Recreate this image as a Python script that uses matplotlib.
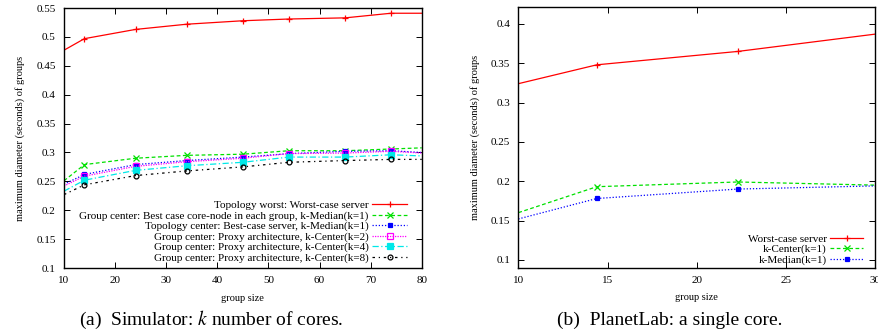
import matplotlib
matplotlib.use("Agg")
import matplotlib.pyplot as plt
from matplotlib.ticker import FormatStrFormatter

plt.rcParams['font.family'] = ['Liberation Serif', 'DejaVu Serif']
plt.rcParams['mathtext.fontset'] = 'stix'

# (a) simulator data
sim_x = [10, 14, 24, 34, 45, 54, 65, 74, 80]
sim_worst = [0.477, 0.497, 0.513, 0.522, 0.528, 0.531, 0.533, 0.541, 0.541]
sim_gc_median = [0.251, 0.279, 0.290, 0.295, 0.297, 0.303, 0.303, 0.306, 0.308]
sim_tc_median = [0.245, 0.262, 0.279, 0.286, 0.292, 0.298, 0.302, 0.303, 0.300]
sim_k2 = [0.242, 0.259, 0.276, 0.284, 0.290, 0.298, 0.299, 0.302, 0.299]
sim_k4 = [0.233, 0.252, 0.269, 0.277, 0.283, 0.292, 0.292, 0.296, 0.294]
sim_k8 = [0.227, 0.244, 0.260, 0.268, 0.275, 0.283, 0.286, 0.288, 0.288]
sim_labels = [
    "Topology worst: Worst-case server",
    "Group center: Best case core-node in each group, k-Median(k=1)",
    "Topology center: Best-case server, k-Median(k=1)",
    "Group center: Proxy architecture, k-Center(k=2)",
    "Group center: Proxy architecture, k-Center(k=4)",
    "Group center: Proxy architecture, k-Center(k=8)",
]

# (b) PlanetLab data
pl_x = [10, 14.4, 22.3, 30]
pl_worst = [0.324, 0.348, 0.365, 0.387]
pl_center = [0.160, 0.193, 0.199, 0.195]
pl_median = [0.152, 0.178, 0.190, 0.194]
pl_labels = ["Worst-case server", "k-Center(k=1)", "k-Median(k=1)"]

fig = plt.figure(figsize=(8.79, 3.35), dpi=100)
ax1 = fig.add_axes([0.0728, 0.2, 0.407, 0.776])
ax2 = fig.add_axes([0.5897, 0.2009, 0.4058, 0.777])

styles = [
    dict(color="#ff0000", ls="-", marker="+", mfc="none"),
    dict(color="#00e000", ls=(0, (3, 2)), marker="x", mfc="none"),
    dict(color="#0000ff", ls=(0, (1, 1.5)), marker="s", mfc="#0000ff", ms=3),
    dict(color="#ff00ff", ls=(0, (1, 1)), marker="s", mfc="none", ms=4),
    dict(color="#00e8e8", ls=(0, (5, 2, 1, 2)), marker="s", mfc="#00e8e8", ms=4),
    dict(color="#000000", ls=(0, (2, 3, 1, 3)), marker="o", mfc="none", ms=3.5),
]

sim_series = [sim_worst, sim_gc_median, sim_tc_median, sim_k2, sim_k4, sim_k8]
for ys, lab, st in zip(sim_series, sim_labels, styles):
    st = dict(st)
    st.setdefault("ms", 5)
    ax1.plot(sim_x, ys, label=lab, lw=0.9, mew=0.9, markevery=slice(1, -1), **st)

pl_series = [pl_worst, pl_center, pl_median]
for ys, lab, st in zip(pl_series, pl_labels, styles[:3]):
    st = dict(st)
    st.setdefault("ms", 5)
    ax2.plot(pl_x, ys, label=lab, lw=0.9, mew=0.9, markevery=slice(1, -1), **st)

ax1.set_xlim(10, 80)
ax1.set_ylim(0.1, 0.55)
ax1.set_xticks(range(10, 81, 10))
ax1.set_yticks([0.1 + 0.05 * i for i in range(10)])

ax2.set_xlim(10, 30)
ax2.set_ylim(0.09, 0.421)
ax2.set_xticks([10, 15, 20, 25, 30])
ax2.set_yticks([0.1, 0.15, 0.2, 0.25, 0.3, 0.35, 0.4])

for ax in (ax1, ax2):
    ax.yaxis.set_major_formatter(FormatStrFormatter('%g'))
    ax.tick_params(direction="in", top=True, right=True, labelsize=8, length=4, width=0.7, pad=6)
    for sp in ax.spines.values():
        sp.set_linewidth(1.0)
    ax.set_xlabel("group size", fontsize=7.5, labelpad=6)
    ax.set_ylabel("maximum diameter (seconds) of groups", fontsize=7.5, labelpad=8)

ax1.legend(loc="lower right", markerfirst=False, frameon=False, fontsize=8,
           handlelength=3.2, labelspacing=0.05, borderaxespad=0.4, handletextpad=0.3,
           bbox_to_anchor=(0.985, -0.015))
ax2.legend(loc="lower right", markerfirst=False, frameon=False, fontsize=8,
           handlelength=3.0, labelspacing=0.05, borderaxespad=0.4, handletextpad=0.3,
           bbox_to_anchor=(0.992, -0.023))

fig.text(0.24, 0.045, "(a)  Simulator: $k$ number of cores.", ha="center", va="center", fontsize=14)
fig.text(0.762, 0.045, "(b)  PlanetLab: a single core.", ha="center", va="center", fontsize=14)

fig.savefig("out.png", dpi=100)
